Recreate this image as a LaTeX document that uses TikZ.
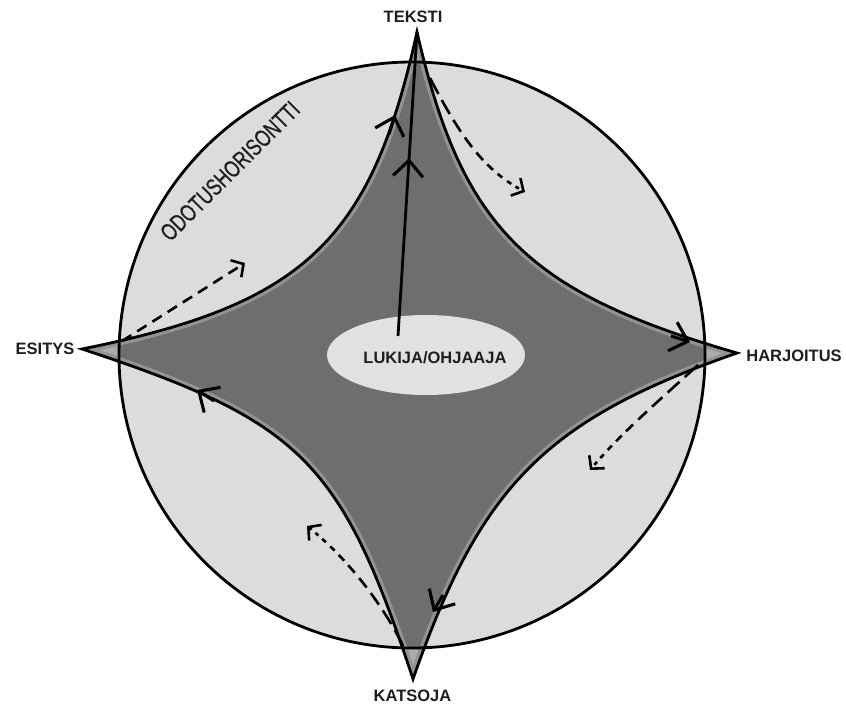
\documentclass[tikz,border=0pt]{standalone}
\usepackage{fontspec}
\setmainfont{Liberation Sans}
\newfontfamily\horizonfont[FakeBold=0.7]{Liberation Sans}
\usetikzlibrary{arrows.meta,decorations.markings,shapes.geometric}
\definecolor{lightg}{HTML}{DCDCDC}
\definecolor{darkg}{HTML}{6E6E6E}
\definecolor{tipg}{HTML}{ABABAB}
\definecolor{bandg}{HTML}{939393}
\definecolor{ellg}{HTML}{E1E1E1}
\definecolor{ink}{HTML}{1E1E1E}
\newcommand\starpath{(417,32) .. controls (461.8,227.6) and (525.8,291.8) .. (737,353)
 .. controls (545.6,419.9) and (480.8,485.2) .. (413,679)
 .. controls (341,461) and (301.3,421.3) .. (82,349)
 .. controls (304,304.6) and (371,241.2) .. (417,32) -- cycle}
\begin{document}
\begin{tikzpicture}[x=1pt,y=-1pt,line join=miter,
  outl/.style={draw=black,line width=2.8pt},
  chev/.style={line width=3.1pt,-{Straight Barb[length=16pt,width=30pt]}},
  dasharr/.style={line width=2.6pt,-{Straight Barb[length=9pt,width=20pt]}},
  fadedash/.style={dash pattern=on 18pt off 7pt on 16pt off 7pt on 14pt off 7pt on 12pt off 7pt on 10pt off 6pt on 8pt off 6pt on 6pt off 6pt on 5pt off 5pt on 4pt off 5pt on 3pt off 5pt on 3pt off 5pt},
  lbl/.style={font=\fontsize{16.5}{18}\selectfont\bfseries,text=ink,inner sep=0pt,anchor=base}]
\useasboundingbox (0,0) rectangle (846,704);
\fill[white] (0,0) rectangle (846,704);
\coordinate (T) at (417,32);
\coordinate (R) at (737,353);
\coordinate (B) at (413,679);
\coordinate (L) at (82,349);
% circle and star
\fill[lightg] (412,355) circle[radius=293];
\fill[tipg] \starpath;
\begin{scope}
  \clip (412,355) circle[radius=293];
  \fill[darkg] \starpath;
\end{scope}
\begin{scope}
  \clip \starpath;
  \draw[bandg,line width=9pt] \starpath;
\end{scope}
\draw[black,line width=2.8pt] (412,355) circle[radius=293];
\draw[outl] \starpath;
% reader
\node[ellipse,fill=ellg,minimum width=198pt,minimum height=80pt,inner sep=0pt] (reader) at (426,355) {};
\node[lbl] (readerlabel) at (435,363) {LUKIJA/OHJAAJA};
\coordinate (lineStart) at (398,336);
\draw[line width=2.8pt,postaction={decorate},decoration={markings,mark=at position 0.585 with {\arrow{Straight Barb[length=16pt,width=30pt,line width=3.1pt]}}}] (lineStart) -- (T);
% edge arrows
\draw[chev] (389,134) -- (395,115);
\draw[chev] (671,336) -- (690,342);
\draw[chev] (443,595) -- (433,612);
\draw[chev] (214,401) -- (197,390);
% dashed arrows
\coordinate (a1s) at (430,78);   \coordinate (a1e) at (525,192);
\coordinate (a2s) at (698,365);  \coordinate (a2e) at (590,470);
\coordinate (a3s) at (403,646);  \coordinate (a3e) at (307,526);
\coordinate (a4s) at (122,341);  \coordinate (a4e) at (245,263);
\draw[dasharr,fadedash] (a1s) .. controls (462,140) and (485,170) .. (a1e);
\draw[dasharr,fadedash] (a2s) .. controls (662,398) and (622,432) .. (a2e);
\draw[dasharr,fadedash] (a3s) .. controls (387,612) and (352,562) .. (a3e);
\draw[dasharr,dash pattern=on 11pt off 7pt] (a4s) -- (a4e);
% labels
\node[lbl] (teksti) at (413,23) {TEKSTI};
\node[lbl] (harjoitus) at (794,361) {HARJOITUS};
\node[lbl] (esitys) at (45,354) {ESITYS};
\node[lbl] (katsoja) at (412.5,701) {KATSOJA};
\node[rotate=45,text=ink,inner sep=0pt,font=\horizonfont\fontsize{24}{26}\selectfont] (horizon) at (230,171) {\scalebox{0.74}[1]{ODOTUSHORISONTTI}};
\end{tikzpicture}
\end{document}
